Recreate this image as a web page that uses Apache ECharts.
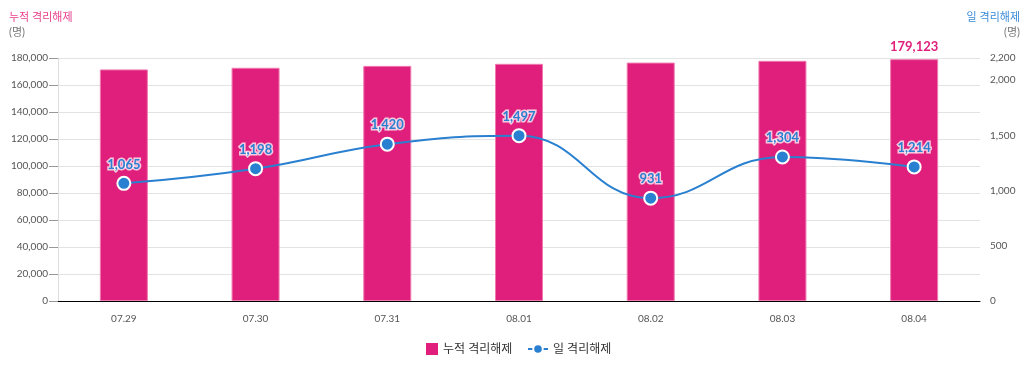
<!DOCTYPE html>
<html><head><meta charset="utf-8">
<script src="https://cdn.jsdelivr.net/npm/echarts@6/dist/echarts.min.js"></script>
<style>html,body{margin:0;padding:0;background:#fff}#c{width:1029px;height:369px}</style>
</head><body><div id="c"></div>
<script>
const categories = ['07.29','07.30','07.31','08.01','08.02','08.03','08.04'];
const cumulative = [171559, 172757, 174177, 175674, 176605, 177909, 179123];
const daily = [1065, 1198, 1420, 1497, 931, 1304, 1214];
const leftName = '누적 격리해제';
const rightName = '일 격리해제';
const unit = '(명)';

const FONT = 'Lato, "Noto Sans CJK KR", sans-serif';
const PINK = '#df1f7b';
const BLUE = '#2a80d0';
const chart = echarts.init(document.getElementById('c'));
chart.setOption({
  animation: false,
  textStyle: { fontFamily: FONT },
  graphic: [
    { type: 'text', left: 9, top: 12, style: { text: leftName, fill: '#e8408c', font: '11px ' + FONT } },
    { type: 'text', left: 9, top: 27, style: { text: unit, fill: '#777', font: '11px ' + FONT } },
    { type: 'text', right: 9, top: 12, style: { text: rightName, fill: '#3a8ad6', font: '11px ' + FONT } },
    { type: 'text', right: 9, top: 27, style: { text: unit, fill: '#777', font: '11px ' + FONT } }
  ],
  grid: { left: 58, right: 49, top: 58, bottom: 68 },
  legend: [
    {
      left: 426, top: 343, padding: 0,
      textStyle: { color: '#333', fontSize: 12, fontFamily: FONT },
      data: [{ name: leftName, icon: 'rect', itemStyle: { color: PINK, borderWidth: 0 } }],
      itemWidth: 12, itemHeight: 12
    },
    {
      left: 527, top: 343, padding: 0,
      textStyle: { color: '#333', fontSize: 12, fontFamily: FONT },
      data: [{ name: rightName }],
      itemWidth: 20, itemHeight: 12
    }
  ],
  xAxis: {
    type: 'category', data: categories,
    axisLine: { lineStyle: { color: '#000', width: 1 } },
    axisTick: { show: false },
    axisLabel: { color: '#555', fontSize: 10, margin: 13, fontFamily: FONT }
  },
  yAxis: [
    {
      type: 'value', min: 0, max: 180000, interval: 20000,
      axisLine: { show: true, lineStyle: { color: '#ddd' } },
      axisTick: { show: true, length: 9, lineStyle: { color: '#999' } },
      axisLabel: { color: '#555', fontSize: 10, margin: 10, fontFamily: FONT,
        formatter: v => v.toLocaleString('en-US') },
      splitLine: { lineStyle: { color: '#e3e3e3' } }
    },
    {
      type: 'value', min: 0, max: 2200, interval: 500,
      axisLine: { show: false }, axisTick: { show: false },
      axisLabel: { color: '#555', fontSize: 10, margin: 10, fontFamily: FONT,
        formatter: v => v.toLocaleString('en-US') },
      splitLine: { show: false }
    }
  ],
  series: [
    {
      name: leftName, type: 'bar', data: cumulative, barWidth: 48,
      itemStyle: { color: PINK, borderColor: '#f07ab0', borderWidth: 1 },
      label: {
        show: true, position: 'top', distance: 6,
        color: '#e0207c', fontWeight: 'bold', fontSize: 13, fontFamily: FONT,
        formatter: p => p.dataIndex === cumulative.length - 1 ? p.value.toLocaleString('en-US') : ''
      }
    },
    {
      name: rightName, type: 'line', yAxisIndex: 1, data: daily, smooth: 0.45,
      symbol: 'circle', symbolSize: 13,
      lineStyle: { color: BLUE, width: 2 },
      itemStyle: { color: BLUE, borderColor: '#fff', borderWidth: 2 },
      label: {
        show: true, position: 'top', distance: 5,
        color: '#2a80d0', fontWeight: 'bold', fontSize: 13, fontFamily: FONT,
        textBorderColor: 'rgba(255,255,255,0.75)', textBorderWidth: 3,
        formatter: p => p.value.toLocaleString('en-US')
      },
      z: 5
    }
  ]
});
</script></body></html>
